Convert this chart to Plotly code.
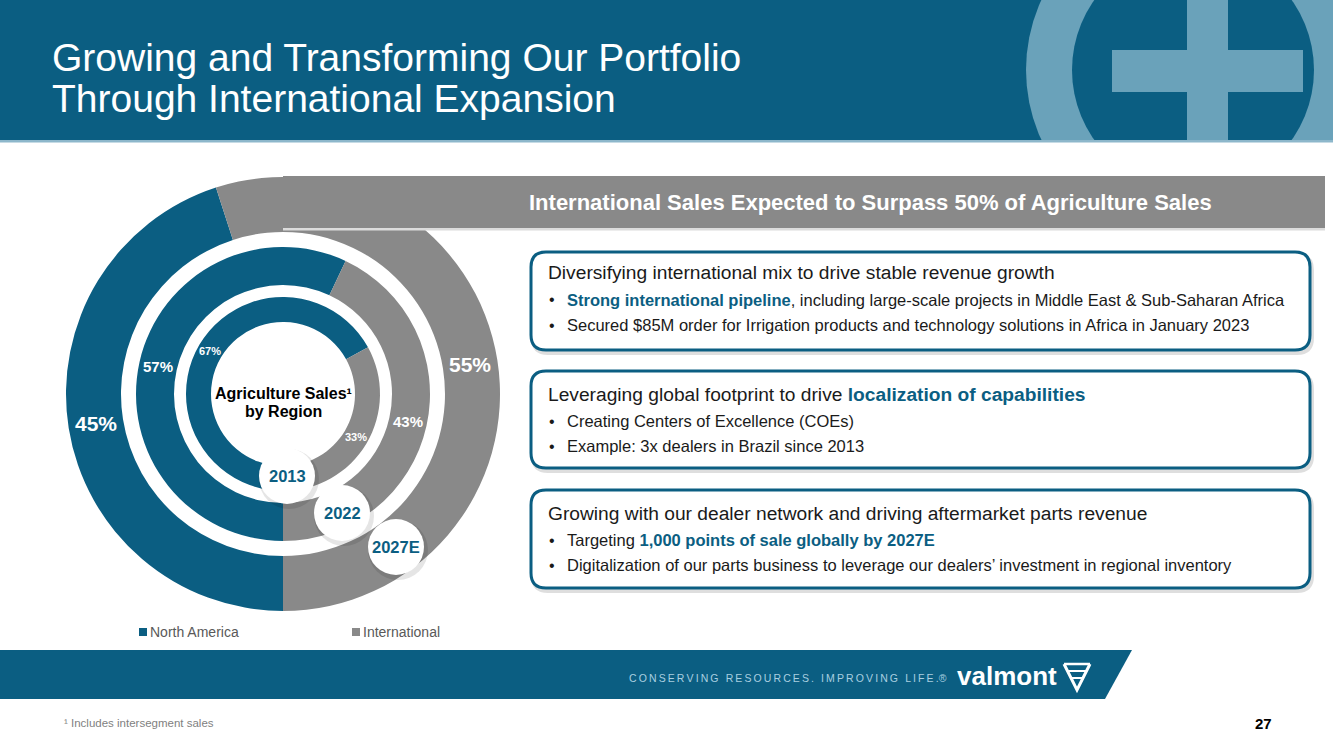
import math
import plotly.graph_objects as go

W, H = 1333, 749

# ---- data ----
years = ["2013", "2022", "2027E"]
regions = ["North America", "International"]
north_america = [67, 57, 45]
international = [33, 43, 55]

# ---- styles ----
BLUE = "#0b5e82"
GRAY = "#898989"
LIGHT = "#6aa2ba"
FONT = "Liberation Sans, Arial, sans-serif"

CX, CY = 283, 394
ring_geom = [(97, 72, 11), (147, 109, 15), (217, 162, 21)]  # outer r, hole r, label size (2013, 2022, 2027E)


def fx(x):
    return x / W


def fy(y):
    return 1 - y / H


fig = go.Figure()
annotations = []


def text(x, y, s, size, color="#1a1a1a", xanchor="left", bold=False):
    if bold:
        s = f"<b>{s}</b>"
    annotations.append(dict(x=fx(x), y=fy(y), xref="paper", yref="paper", text=s, showarrow=False,
                            xanchor=xanchor, yanchor="middle",
                            font=dict(family=FONT, size=size, color=color)))


for i, yr in enumerate(years):
    r, h, fs = ring_geom[i]
    vals = [north_america[i], international[i]]
    fig.add_trace(go.Pie(
        labels=regions,
        values=vals,
        name=yr,
        sort=False,
        direction="clockwise",
        rotation=180,
        hole=h / r,
        domain=dict(x=[fx(CX - r), fx(CX + r)], y=[fy(CY + r), fy(CY - r)]),
        marker=dict(colors=[BLUE, GRAY], line=dict(width=0)),
        textinfo="none",
        hoverinfo="skip",
        showlegend=False,
    ))
    # percentage labels at the slice mid-angles, mid-ring
    tot = sum(vals)
    start = 0.0
    rm = (r + h) / 2
    for v in vals:
        span = v / tot * 360
        th = math.radians(180 + start + span / 2)  # clockwise from 12 o'clock
        px = CX + rm * math.sin(th)
        py = CY - rm * math.cos(th)
        text(px, py, f"{v}%", fs, "white", xanchor="center", bold=True)
        start += span

shapes = []


def rect(x0, y0, x1, y1, color, layer="above"):
    shapes.append(dict(type="rect", xref="paper", yref="paper",
                       x0=fx(x0), x1=fx(x1), y0=fy(y1), y1=fy(y0),
                       fillcolor=color, line=dict(width=0), layer=layer))


def circle(cx, cy, r, color, layer="above"):
    shapes.append(dict(type="circle", xref="paper", yref="paper",
                       x0=fx(cx - r), x1=fx(cx + r), y0=fy(cy + r), y1=fy(cy - r),
                       fillcolor=color, line=dict(width=0), layer=layer))


def P(x, y):
    return f"{fx(x):.6f},{fy(y):.6f}"


def rrect_path(x0, y0, x1, y1, r):
    return (f"M{P(x0 + r, y0)} L{P(x1 - r, y0)} Q{P(x1, y0)} {P(x1, y0 + r)} "
            f"L{P(x1, y1 - r)} Q{P(x1, y1)} {P(x1 - r, y1)} L{P(x0 + r, y1)} "
            f"Q{P(x0, y1)} {P(x0, y1 - r)} L{P(x0, y0 + r)} Q{P(x0, y0)} {P(x0 + r, y0)} Z")


# header
rect(0, 0, W, 140, BLUE)
circle(1193, 70, 167, LIGHT)
circle(1193, 70, 121, BLUE)
rect(1112, 50, 1303, 92, LIGHT)
rect(1187, 0, 1228, 140, LIGHT)
rect(880, 140, W, 245, "white")
rect(0, 140, W, 142.5, "#8db7cb")

# banner
rect(283, 228, 1325, 230.5, "#dcdcdc")
rect(283, 176, 1325, 228, GRAY)

# boxes
boxes = [(531, 252, 1310, 350), (531, 371, 1310, 468), (531, 490, 1310, 588)]
for (x0, y0, x1, y1) in boxes:
    shapes.append(dict(type="path", xref="paper", yref="paper",
                       path=rrect_path(x0 + 2, y0 + 3, x1 + 2, y1 + 3, 15),
                       line=dict(color="rgba(0,0,0,0.13)", width=4), fillcolor="rgba(0,0,0,0)"))
    shapes.append(dict(type="path", xref="paper", yref="paper",
                       path=rrect_path(x0, y0, x1, y1, 15),
                       line=dict(color=BLUE, width=3), fillcolor="white"))

# footer band
shapes.append(dict(type="path", xref="paper", yref="paper",
                   path=f"M{P(0, 650)} L{P(1132, 650)} L{P(1105, 699)} L{P(0, 699)} Z",
                   fillcolor=BLUE, line=dict(width=0)))
# logo mark
for (a, b, c, d, w) in [(1064, 664, 1090, 664, 2.5), (1067, 671, 1087, 671, 2), (1070, 678, 1084, 678, 2)]:
    shapes.append(dict(type="line", xref="paper", yref="paper", x0=fx(a), y0=fy(b), x1=fx(c), y1=fy(d),
                       line=dict(color="white", width=w)))
shapes.append(dict(type="path", xref="paper", yref="paper",
                   path=f"M{P(1064, 664)} L{P(1077, 690)} L{P(1090, 664)}",
                   line=dict(color="white", width=3)))

# year badges
badges = [(287, 476), (342, 513), (396, 547)]
for (bx, by) in badges:
    circle(bx + 2, by + 3, 30, "rgba(0,0,0,0.10)")
    circle(bx, by, 28, "white")

# legend squares
rect(139, 628, 147, 636, BLUE)
rect(352, 628, 360, 636, GRAY)


def hl(s):
    return f"<b><span style='color:{BLUE}'>{s}</span></b>"


# title
text(50, 57, "Growing and Transforming Our Portfolio", 39, "white")
text(50, 98, "Through International Expansion", 39, "white")

# banner text
text(527, 202, "International Sales Expected to Surpass 50% of Agriculture Sales", 22, "white", bold=True)

# box content
box_text = [
    ("Diversifying international mix to drive stable revenue growth",
     [hl("Strong international pipeline") + ", including large-scale projects in Middle East &amp; Sub-Saharan Africa",
      "Secured $85M order for Irrigation products and technology solutions in Africa in January 2023"]),
    ("Leveraging global footprint to drive " + hl("localization of capabilities"),
     ["Creating Centers of Excellence (COEs)",
      "Example: 3x dealers in Brazil since 2013"]),
    ("Growing with our dealer network and driving aftermarket parts revenue",
     ["Targeting " + hl("1,000 points of sale globally by 2027E"),
      "Digitalization of our parts business to leverage our dealers\u2019 investment in regional inventory"]),
]
heads_y = [273, 394, 513]
for (head, bullets), hy in zip(box_text, heads_y):
    text(546, hy, head, 19.2)
    for j, b in enumerate(bullets):
        by = hy + 27 + 25 * j
        text(547, by, "\u2022", 16)
        text(565, by, b, 16.5)

# donut centre
text(CX, 393, "Agriculture Sales\u00b9", 16, "black", xanchor="center", bold=True)
text(CX, 411, "by Region", 16, "black", xanchor="center", bold=True)

# badges text
for (bx, by), yr in zip(badges, years):
    text(bx, by, yr, 16.5, BLUE, xanchor="center", bold=True)

# legend text
text(148, 632, regions[0], 14, "#595959")
text(361, 632, regions[1], 14, "#595959")

# footer
tag = "\u2009".join("CONSERVING RESOURCES. IMPROVING LIFE.")
text(627, 678, tag + "\u00ae", 10.5, "#a9cfe0")
text(955, 676, "valmont", 26, "white", bold=True)
text(62, 723, "\u00b9 Includes intersegment sales", 11.5, "#7f7f7f")
text(1263, 723, "27", 15, "black", xanchor="center", bold=True)

fig.update_layout(
    width=W, height=H,
    margin=dict(l=0, r=0, t=0, b=0),
    paper_bgcolor="white",
    plot_bgcolor="white",
    shapes=shapes,
    annotations=annotations,
    showlegend=False,
)

fig.write_html("out.html")
